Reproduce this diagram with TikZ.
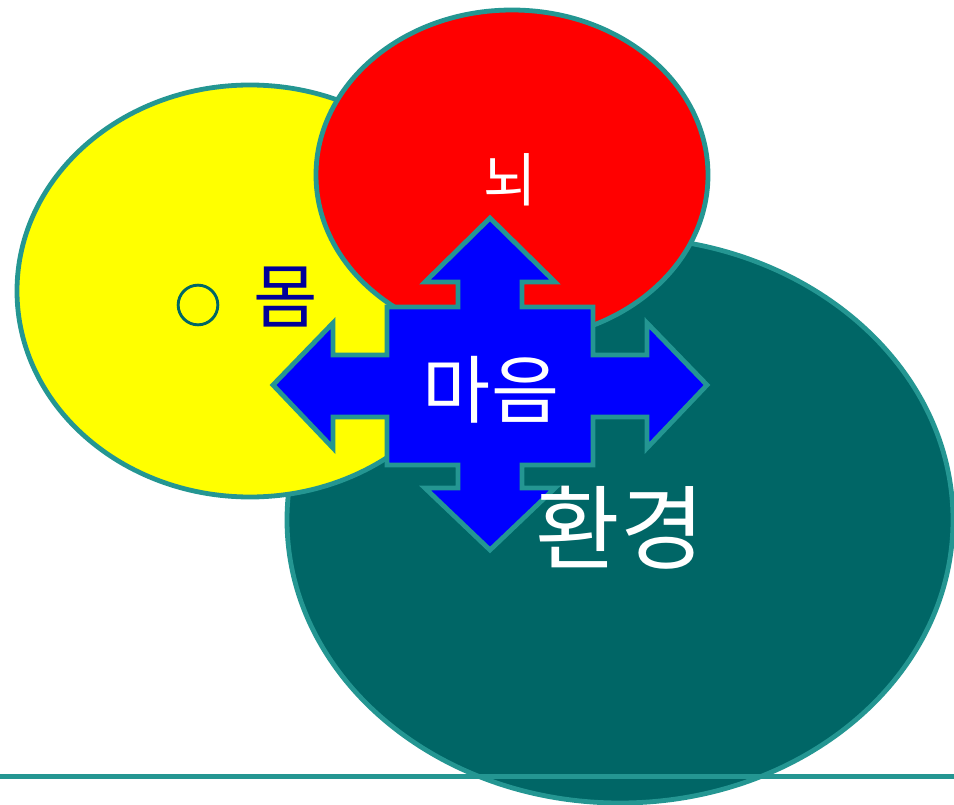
\documentclass[tikz,border=0pt]{standalone}
\usepackage{fontspec}
\newfontfamily\kr{Noto Sans CJK KR}
\definecolor{rim}{RGB}{36,150,146}
\definecolor{envfill}{RGB}{0,102,102}
\definecolor{bodyfill}{RGB}{255,255,0}
\definecolor{brainfill}{RGB}{255,0,0}
\definecolor{mindfill}{RGB}{0,0,255}
\definecolor{bodytext}{RGB}{0,0,153}
\begin{document}
\begin{tikzpicture}[x=1pt,y=-1pt,
  shapeline/.style={draw=rim,line width=4.8pt},
  label/.style={inner sep=0pt,font=\kr}]
\useasboundingbox (0,0) rectangle (954,805);
% environment (teal)
\draw[shapeline,fill=envfill] (620,520) ellipse [x radius=333,y radius=283];
% body (yellow)
\draw[shapeline,fill=bodyfill] (250,291) ellipse [x radius=233,y radius=206];
% brain (red)
\draw[shapeline,fill=brainfill] (512,175) ellipse [x radius=196,y radius=165];
% mind: four-way arrow
\draw[shapeline,fill=mindfill,line join=miter]
  (490,218) -- (555,282) -- (522,282) -- (522,307) -- (593,307) -- (593,355)
  -- (647,355) -- (647,323) -- (707,385) -- (647,448) -- (647,417) -- (593,417)
  -- (593,465) -- (522,465) -- (522,488) -- (555,488) -- (490,550) -- (425,488)
  -- (458,488) -- (458,465) -- (387,465) -- (387,417) -- (333,417) -- (333,448)
  -- (273,385) -- (333,323) -- (333,355) -- (387,355) -- (387,307) -- (458,307)
  -- (458,282) -- (425,282) -- cycle;
% bottom rule
\coordinate (ruleL) at (0,776);
\coordinate (ruleR) at (954,776);
\draw[rim,line width=5pt] (ruleL) -- (ruleR);
% texts
\node[label,text=white,font=\kr\fontsize{58}{60}\selectfont] (brain) at (510,180) {뇌};
\node[label,text=envfill,font=\kr\addfontfeature{FakeBold=2.5}\fontsize{46}{48}\selectfont] (bullet) at (198,305) {○};
\node[label,text=bodytext,font=\kr\fontsize{70}{72}\selectfont] (body) at (286,297) {몸};
\node[label,text=white,font=\kr\fontsize{74}{76}\selectfont] (mind) at (491,390) {마음};
\node[label,text=white,font=\kr\fontsize{92}{94}\selectfont] (env) at (620,528) {환경};
\end{tikzpicture}
\end{document}
